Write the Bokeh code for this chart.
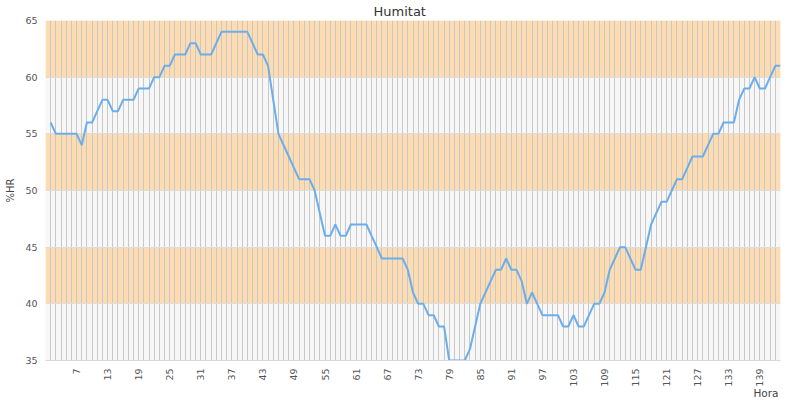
import math
from bokeh.plotting import figure
from bokeh.models import Range1d, FixedTicker, BoxAnnotation, Title
from bokeh.embed import file_html
from bokeh.resources import INLINE

# ---- data ----
hours = list(range(2, 144))
humidity = [
    56, 55, 55, 55, 55, 55, 54, 56, 56, 57,
    58, 58, 57, 57, 58, 58, 58, 59, 59, 59,
    60, 60, 61, 61, 62, 62, 62, 63, 63, 62,
    62, 62, 63, 64, 64, 64, 64, 64, 64, 63,
    62, 62, 61, 58, 55, 54, 53, 52, 51, 51,
    51, 50, 48, 46, 46, 47, 46, 46, 47, 47,
    47, 47, 46, 45, 44, 44, 44, 44, 44, 43,
    41, 40, 40, 39, 39, 38, 38, 35, 35, 35,
    35, 36, 38, 40, 41, 42, 43, 43, 44, 43,
    43, 42, 40, 41, 40, 39, 39, 39, 39, 38,
    38, 39, 38, 38, 39, 40, 40, 41, 43, 44,
    45, 45, 44, 43, 43, 45, 47, 48, 49, 49,
    50, 51, 51, 52, 53, 53, 53, 54, 55, 55,
    56, 56, 56, 58, 59, 59, 60, 59, 59, 60,
    61, 61,
]
x_tick_labels = list(range(7, 140, 6))
all_hours = list(range(1, 144))
y_ticks = [35, 40, 45, 50, 55, 60, 65]
orange_bands = [(40, 45), (50, 55), (60, 65)]

p = figure(width=800, height=400, output_backend="svg", toolbar_location=None,
           x_range=Range1d(1, 143), y_range=Range1d(35, 65),
           min_border_left=45, min_border_right=20,
           min_border_top=20, min_border_bottom=40)
p.outline_line_color = None
p.background_fill_color = "#f7f7f7"
p.border_fill_color = "white"

p.title.text = "Humitat"
p.title.align = "left"
p.title.offset = 328
p.title.standoff = 3
p.title.text_font = "DejaVu Sans"
p.title.text_font_size = "13px"
p.title.text_font_style = "normal"
p.title.text_color = "#333333"

for lo, hi in orange_bands:
    p.add_layout(BoxAnnotation(bottom=lo, top=hi, fill_color="#fcdcb0",
                               fill_alpha=1.0, line_color=None, level="image"))

# grids
p.xgrid.ticker = FixedTicker(ticks=all_hours)
p.xgrid.grid_line_color = "#c8c8c8"
p.xgrid.grid_line_width = 1
p.ygrid.ticker = FixedTicker(ticks=y_ticks)
p.ygrid.grid_line_color = "#dddddd"
p.ygrid.grid_line_width = 1

# axes
p.xaxis.ticker = FixedTicker(ticks=x_tick_labels)
p.yaxis.ticker = FixedTicker(ticks=y_ticks)
p.axis.major_tick_line_color = None
p.axis.minor_tick_line_color = None
p.axis.major_label_text_font = "DejaVu Sans"
p.axis.major_label_text_font_size = "9.5px"
p.axis.major_label_text_color = "#555555"
p.axis.major_label_standoff = 2
p.xaxis.major_label_orientation = math.pi / 2
p.xaxis.axis_line_color = "#d8d8d8"
p.yaxis.axis_line_color = None

p.yaxis.axis_label = "%HR"
p.yaxis.axis_label_standoff = 6
p.yaxis.axis_label_text_font = "DejaVu Sans"
p.yaxis.axis_label_text_font_size = "10px"
p.yaxis.axis_label_text_font_style = "normal"
p.yaxis.axis_label_text_color = "#444444"

hora = Title(text="Hora", align="right", offset=2, standoff=-5,
             vertical_align="top",
             text_font="DejaVu Sans", text_font_size="10.5px",
             text_font_style="normal", text_color="#444444")
p.add_layout(hora, "below")

p.line(hours, humidity, line_color="#6aaeee", line_width=2)

open("out.html", "w").write(file_html(p, INLINE))
